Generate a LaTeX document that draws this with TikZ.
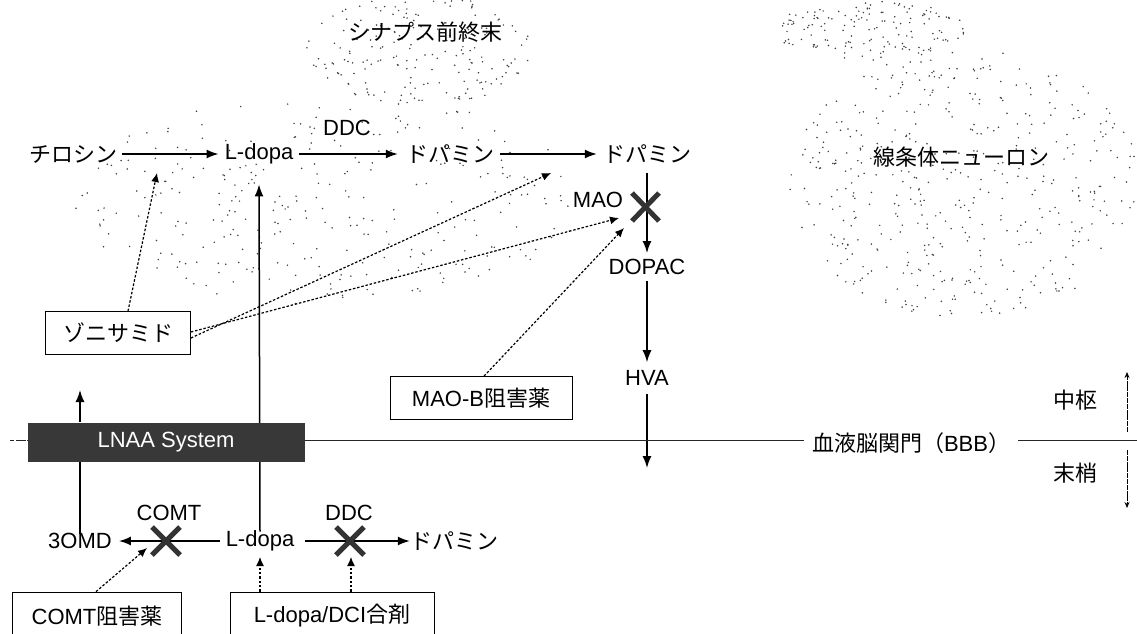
\documentclass[tikz,border=0pt]{standalone}
\usepackage{fontspec}
\setmainfont{Liberation Sans}
\newfontfamily\jp{Noto Sans CJK JP}
\usetikzlibrary{arrows.meta}
\begin{document}
\begin{tikzpicture}[x=1pt,y=-1pt,
  lat/.style={font=\fontsize{22}{26}\selectfont, inner sep=3pt},
  jap/.style={font=\jp\fontsize{22}{26}\selectfont, inner sep=3pt},
  flow/.style={line width=1.5pt, -{Latex[length=12pt,width=9pt]}},
  plain/.style={line width=1.5pt},
  inh/.style={line width=1.2pt, dash pattern=on 2.5pt off 1.8pt, -{Latex[length=9pt,width=8pt]}},
  drugbox/.style={draw, line width=0.8pt, inner sep=2pt, font=\fontsize{22}{26}\selectfont},
  xmark/.style={line width=5pt, draw=black!80},
  bbbline/.style={line width=1pt, draw=black!85},
  side/.style={line width=0.8pt, dash pattern=on 5pt off 0.8pt, -{Stealth[length=6pt,width=5pt]}},
  dotc/.style={fill=black!75}
]
\useasboundingbox (0,0) rectangle (1137,633);
\fill[white] (0,0) rectangle (1137,633);

% stipple backgrounds
\pgfmathsetseed{7}
\foreach \i in {1,...,190}{
  \pgfmathsetmacro\a{rnd*360}\pgfmathsetmacro\r{sqrt(rnd)}
  \fill[dotc] ({420+115*\r*cos(\a)},{50+55*\r*sin(\a)}) circle (0.85pt);
}
\foreach \i in {1,...,300}{
  \pgfmathsetmacro\a{rnd*360}\pgfmathsetmacro\r{sqrt(rnd)}
  \fill[dotc] ({330+255*\r*cos(\a)},{200+105*\r*sin(\a)}) circle (0.85pt);
}
\foreach \i in {1,...,150}{
  \pgfmathsetmacro\a{rnd*360}\pgfmathsetmacro\r{sqrt(rnd)}
  \fill[dotc] ({870+95*\r*cos(\a)},{30+30*\r*sin(\a)}) circle (0.85pt);
}
\foreach \i in {1,...,460}{
  \pgfmathsetmacro\a{rnd*360}\pgfmathsetmacro\r{sqrt(rnd)}
  \fill[dotc] ({965+175*\r*cos(\a)},{185+135*\r*sin(\a)}) circle (0.85pt);
}

% labels of regions
\node[jap] (syn) at (425,32) {シナプス前終末};
\node[jap] (str) at (961,157) {線条体ニューロン};

% central pathway
\node[jap] (tyr) at (73,154) {チロシン};
\node[lat] (ld1) at (259,154) {L-dopa};
\node[lat] (ddc1) at (347,128) {DDC};
\node[jap] (da1) at (450,154) {ドパミン};
\node[jap] (da2) at (647,154) {ドパミン};
\node[lat] (mao) at (598,200) {MAO};
\node[lat, inner sep=6pt] (dopac) at (647,267) {DOPAC};
\node[lat, inner sep=8pt] (hva) at (647,378) {HVA};

\draw[flow] (tyr.east) ++(2,0) -- ([xshift=-3pt]ld1.west);
\draw[flow] (ld1.east) ++(3,0) -- ([xshift=-5pt]da1.west);
\draw[flow] (da1.east) ++(3,0) -- ([xshift=-3pt]da2.west);
\draw[flow] ([yshift=-6pt]da2.south) -- (dopac.north);
\draw[flow] (dopac.south) -- (hva.north);
\coordinate (hvaend) at (647,468);
\draw[flow] (hva.south) -- (hvaend);
\draw[xmark] (632,193) -- (659,221);
\draw[xmark] (632,221) -- (659,193);

% peripheral pathway
\node[lat] (omd) at (80,541) {3OMD};
\node[lat] (comt) at (169,513) {COMT};
\node[lat] (ld2) at (260,541) {L-dopa};
\node[lat] (ddc2) at (349,513) {DDC};
\node[jap] (da3) at (454,541) {ドパミン};

\draw[flow] ([xshift=-3pt]ld2.west) -- ([xshift=4pt]omd.east);
\draw[flow] ([xshift=8pt]ld2.east) -- ([xshift=3pt]da3.west);
\draw[xmark] (152,527) -- (180,555);
\draw[xmark] (152,555) -- (180,527);
\draw[xmark] (336,527) -- (364,555);
\draw[xmark] (336,555) -- (364,527);

% vertical L-dopa transport (behind LNAA box)
\draw[flow] ([yshift=-4pt]ld2.north) -- ([yshift=-17pt]ld1.south);

% BBB line
\coordinate (bl) at (10,440);
\coordinate (br) at (1137,440);
\node[jap, inner xsep=8pt] (bbb) at (911,443) {血液脳関門（{\fontspec{Liberation Sans}BBB}）};
\draw[bbbline, dash pattern=on 4pt off 2pt on 10pt off 1pt] (bl) -- (28,440);
\draw[bbbline] (305,440) -- (bbb.west |- bl);
\draw[bbbline] (bbb.east |- bl) -- (br);

% LNAA system
\node[fill=black!78, text=white, minimum width=277pt, minimum height=39pt, inner sep=0pt,
      font=\fontsize{22}{26}\selectfont] (lnaa) at (166,442) {LNAA System};
\draw[plain] ([yshift=-4pt]omd.north) -- (omd.north |- lnaa.south);
\coordinate (lnaaup) at (80,390);
\draw[flow] (omd.north |- lnaa.north) -- (lnaaup);

% drug boxes
\node[drugbox, minimum width=145pt, minimum height=43pt] (zon) at (118,333) {\jp ゾニサミド};
\node[drugbox, minimum width=182pt, minimum height=43pt] (maob) at (481,398) {MAO-B{\jp 阻害薬}};
\node[drugbox, minimum width=169pt, minimum height=48pt] (comtinh) at (97,616) {COMT{\jp 阻害薬}};
\node[drugbox, minimum width=204pt, minimum height=48pt] (ldci) at (332,616) {L-dopa/DCI{\jp 合剤}};

% inhibitor connectors
\coordinate (z1) at (157,173);
\coordinate (z2) at (551,173);
\coordinate (z3) at (619,218);
\coordinate (m1) at (624,228);
\coordinate (c1) at (147,548);
\coordinate (l1) at (260,557);
\coordinate (l2) at (351,557);
\draw[inh] (zon.north -| 128,0) -- (z1);
\draw[inh] ([yshift=-5pt]zon.east) -- (z2);
\draw[inh] ([yshift=1pt]zon.east) -- (z3);
\draw[inh] (maob.north -| 484,0) -- (m1);
\draw[inh] (comtinh.north -| 96,0) -- (c1);
\draw[inh] (ldci.north -| 260,0) -- (l1);
\draw[inh] (ldci.north -| 351,0) -- (l2);

% central / peripheral marker
\node[jap] (chusu) at (1075,400) {中枢};
\node[jap] (mattsho) at (1075,473) {末梢};
\coordinate (s0) at (1127,432);
\coordinate (s1) at (1127,372);
\coordinate (s2) at (1127,450);
\coordinate (s3) at (1127,508);
\draw[side] (s0) -- (s1);
\draw[side] (s2) -- (s3);
\end{tikzpicture}
\end{document}
